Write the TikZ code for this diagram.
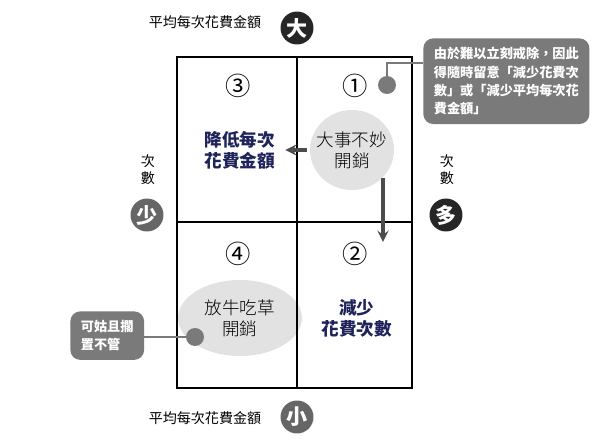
\documentclass[tikz,border=0pt]{standalone}
\usepackage{fontspec}
\setmainfont{Noto Sans CJK TC}
\newfontfamily\handfont{Noto Sans CJK TC Light}
\usetikzlibrary{calc}
\definecolor{calloutgray}{RGB}{122,122,122}
\definecolor{blobgray}{RGB}{226,226,226}
\definecolor{textnavy}{RGB}{30,35,90}
\tikzset{
  grid-line/.style={line width=1.4pt, draw=black},
  axis-dot/.style={circle, inner sep=0pt, text=white, font=\bfseries\large, minimum size=0.66cm},
  axis-black/.style={axis-dot, fill=black!85},
  axis-gray/.style={axis-dot, fill=black!60},
  small-label/.style={font=\footnotesize, align=center},
  quad-num/.style={font=\Large},
  hand-text/.style={font=\handfont, align=center},
  navy-text/.style={font=\bfseries, text=textnavy, align=center},
  callout/.style={rounded corners=0.2cm, fill=calloutgray, text=white, font=\fontsize{7.5}{10.5}\selectfont\bfseries, align=left, inner xsep=6pt, inner ysep=5pt},
  callout-line/.style={line width=1.6pt, draw=calloutgray},
  pin-dot/.style={circle, fill=calloutgray, minimum size=0.36cm, inner sep=0pt},
  move-arrow/.style={line width=1.8pt, draw=black!70, -stealth}
}
\begin{document}
\begin{tikzpicture}[x=0.02cm, y=-0.02cm]
  \useasboundingbox (0,0) rectangle (600,446);

  % Blobs
  \fill[blobgray] (352,150) ellipse (42 and 40);
  \fill[blobgray] (240,318) ellipse (62 and 38);

  % Grid
  \draw[grid-line] (177,57) rectangle (412,388);
  \draw[grid-line] (297,57) -- (297,388);
  \draw[grid-line] (177,222) -- (412,222);

  % Axis circles and labels
  \node[axis-black] (big) at (297,28) {大};
  \node[axis-gray] (small) at (297,417) {小};
  \node[axis-gray] (few) at (147,215) {少};
  \node[axis-black] (many) at (446,215) {多};
  \node[small-label] (toplabel) at (205,22) {平均每次花費金額};
  \node[small-label] (botlabel) at (205,418) {平均每次花費金額};
  \node[small-label] (leftlabel) at (148,170) {次\\數};
  \node[small-label] (rightlabel) at (447,170) {次\\數};

  % Quadrants
  \node[quad-num] (q3) at (238,86) {③};
  \node[quad-num] (q1) at (355,86) {①};
  \node[quad-num] (q4) at (238,254) {④};
  \node[quad-num] (q2) at (355,254) {②};
  \node[navy-text] (cut-avg) at (240,150) {降低每次\\花費金額};
  \node[hand-text] (bad) at (352,150) {大事不妙\\開銷};
  \node[hand-text] (free) at (240,318) {放牛吃草\\開銷};
  \node[navy-text] (cut-count) at (357,318) {減少\\花費次數};

  % Arrows
  \draw[move-arrow] ($(bad.west)+(-4,0)$) -- ($(cut-avg.east)+(4,0)$);
  \draw[move-arrow] (383,178) -- (383,242);

  % Callouts
  \node[callout, anchor=north west] (note1) at (423,38) {由於難以立刻戒除，因此\\得隨時留意「減少花費次\\數」或「減少平均每次花\\費金額」};
  \node[pin-dot] (dot1) at (387,85) {};
  \draw[callout-line] (dot1.center) |- (note1.west |- 0,63);
  \node[callout, anchor=north west] (note2) at (70,311) {可姑且擱\\置不管};
  \node[pin-dot] (dot2) at (195,337) {};
  \draw[callout-line] (note2.east |- dot2) -- (dot2.center);
\end{tikzpicture}
\end{document}
